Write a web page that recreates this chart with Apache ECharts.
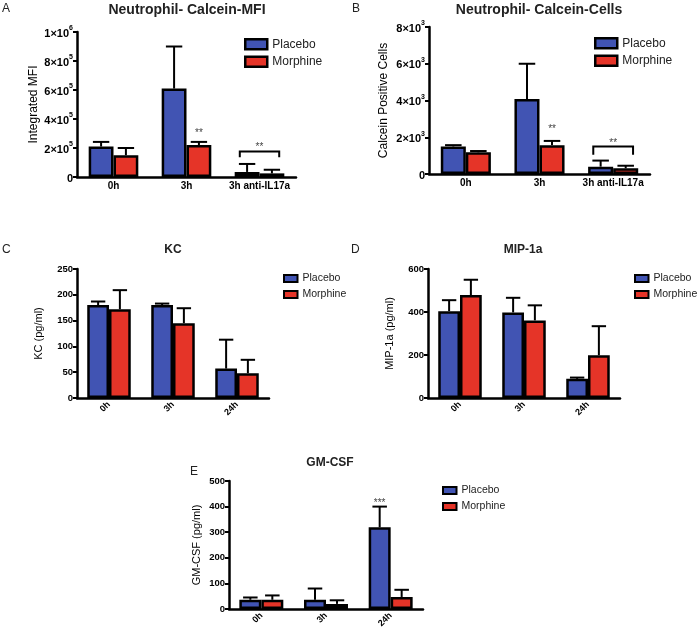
<!DOCTYPE html>
<html><head><meta charset="utf-8">
<script src="https://cdn.jsdelivr.net/npm/echarts@6/dist/echarts.min.js"></script>
<style>html,body{margin:0;padding:0;background:#fff}#c{width:700px;height:634px}</style>
</head><body><div id="c"></div>
<script>
// ---------- data ----------
const catsAB = ['0h', '3h', '3h anti-IL17a'];
const catsCDE = ['0h', '3h', '24h'];

const placeboA = [210000, 610000, 35000];
const placeboAErr = [32000, 290000, 55000];
const morphineA = [150000, 220000, 25000];
const morphineAErr = [50000, 22000, 25000];

const placeboB = [1500, 4080, 400];
const placeboBErr = [70, 1920, 330];
const morphineB = [1180, 1570, 310];
const morphineBErr = [70, 230, 140];

const placeboC = [180, 180, 57];
const placeboCErr = [7, 3, 56];
const morphineC = [172, 145, 48];
const morphineCErr = [37, 29, 26];

const placeboD = [404, 398, 89];
const placeboDErr = [51, 68, 6];
const morphineD = [479, 361, 199];
const morphineDErr = [71, 70, 135];

const placeboE = [36, 36, 319];
const placeboEErr = [9, 44, 81];
const morphineE = [36, 20, 47];
const morphineEErr = [17, 14, 28];

// significance marks: [category index, y value, side (-1 placebo, 0 centre, 1 morphine), text]
const starsA = [[1, 300000, 1, '**'], [2, 205000, 0, '**']];
const starsB = [[1, 2450, 1, '**'], [2, 1650, 0, '**']];
const starsE = [[2, 415, -1, '***']];
// brackets: [category index, top y, bottom y]
const bracketA = [[2, 176000, 137000]];
const bracketB = [[2, 1500, 1050]];

const yMax = [1000000, 8000, 250, 600, 500];
const yStep = [200000, 2000, 50, 200, 100];
const yNames = ['Integrated MFI', 'Calcein Positive Cells', 'KC (pg/ml)', 'MIP-1a (pg/ml)', 'GM-CSF (pg/ml)'];
const titles = ['Neutrophil- Calcein-MFI', 'Neutrophil- Calcein-Cells', 'KC', 'MIP-1a', 'GM-CSF'];
const letters = ['A', 'B', 'C', 'D', 'E'];

// ---------- style ----------
const FONT = '"Liberation Sans", Arial, Helvetica, sans-serif';
const BLUE = '#4154B3';
const RED = '#E53428';
const GAP = 0.32;

const grids = [
  {left: 77, top: 32, width: 219, height: 145},
  {left: 429, top: 27, width: 221, height: 147},
  {left: 77, top: 269, width: 192, height: 129},
  {left: 428, top: 269, width: 192, height: 129},
  {left: 229, top: 481, width: 194, height: 128}
];
const nameGaps = [37, 39, 33, 33, 27];
const nameSizes = [12, 12, 11, 11, 11];
const tickSizes = [11, 11, 9.5, 9.5, 9.5];
const titlePos = [[187, 3, 14], [539, 3, 14], [173, 244, 12], [523, 244, 12], [330, 457, 12]];
const letterPos = [[2, 3], [352, 3], [2, 244], [351, 244], [190, 466]];
const legendPos = [
  {left: 244, top: 38, w: 22, h: 10, gap: 5, fs: 12},
  {left: 594, top: 37, w: 22, h: 10, gap: 5, fs: 12},
  {left: 283, top: 273, w: 13.5, h: 7, gap: 5, fs: 10.5},
  {left: 634, top: 273, w: 13.5, h: 7, gap: 5, fs: 10.5},
  {left: 442, top: 485, w: 13.5, h: 7, gap: 5, fs: 10.5}
];

const panels = [
  {cats: catsAB, p: placeboA, pe: placeboAErr, m: morphineA, me: morphineAErr, stars: starsA, br: bracketA, sci: true},
  {cats: catsAB, p: placeboB, pe: placeboBErr, m: morphineB, me: morphineBErr, stars: starsB, br: bracketB, sci: true},
  {cats: catsCDE, p: placeboC, pe: placeboCErr, m: morphineC, me: morphineCErr, stars: [], br: []},
  {cats: catsCDE, p: placeboD, pe: placeboDErr, m: morphineD, me: morphineDErr, stars: [], br: []},
  {cats: catsCDE, p: placeboE, pe: placeboEErr, m: morphineE, me: morphineEErr, stars: starsE, br: []}
];

function sciFmt(v) {
  if (v === 0) return '{b|0}';
  const e = Math.floor(Math.log10(v) + 1e-9);
  const m = Math.round(v / Math.pow(10, e));
  return '{b|' + m + '×10}{s|' + e + '}';
}

function errRender(params, api) {
  const cat = api.value(0), v = api.value(1), e = api.value(2), side = api.value(3);
  const band = api.size([1, 0])[0];
  const bw = band * (1 - GAP) / 2;
  const base = api.coord([cat, v]);
  const top = api.coord([cat, v + e]);
  const x = base[0] + side * bw / 2;
  const hw = bw * 0.33;
  const st = {stroke: '#000', lineWidth: 2};
  return {type: 'group', children: [
    {type: 'line', shape: {x1: x, y1: base[1], x2: x, y2: top[1]}, style: st},
    {type: 'line', shape: {x1: x - hw, y1: top[1], x2: x + hw, y2: top[1]}, style: st}
  ]};
}

function starRender(arr) {
  return function (params, api) {
    const d = arr[params.dataIndex];
    const band = api.size([1, 0])[0];
    const bw = band * (1 - GAP) / 2;
    const c = api.coord([d[0], d[1]]);
    return {type: 'text', x: c[0] + d[2] * bw / 2, y: c[1],
      style: {text: d[3], fill: '#444', font: '10px ' + FONT, textAlign: 'center', textVerticalAlign: 'middle'}};
  };
}

function bracketRender(params, api) {
  const cat = api.value(0), y1 = api.value(1), y2 = api.value(2);
  const band = api.size([1, 0])[0];
  const a = api.coord([cat, y1]);
  const b = api.coord([cat, y2]);
  const xl = a[0] - band * 0.27, xr = a[0] + band * 0.27;
  return {type: 'polyline', shape: {points: [[xl, b[1]], [xl, a[1]], [xr, a[1]], [xr, b[1]]]},
    style: {stroke: '#000', lineWidth: 2, fill: null}};
}

const option = {
  animation: false,
  backgroundColor: '#fff',
  textStyle: {fontFamily: FONT},
  grid: grids,
  xAxis: [], yAxis: [], series: [], legend: [], graphic: []
};

panels.forEach((pn, i) => {
  const rot = i >= 2;
  option.xAxis.push({
    type: 'category', gridIndex: i, data: pn.cats,
    axisLine: {lineStyle: {color: '#000', width: 2.5}},
    axisTick: {alignWithLabel: true, length: 4, lineStyle: {color: '#000', width: 2}},
    axisLabel: rot ? {interval: 0, rotate: 45, margin: 5, color: '#000', fontWeight: 'bold', fontSize: 9, fontFamily: FONT}
                   : {interval: 0, margin: 4, color: '#000', fontWeight: 'bold', fontSize: 10, fontFamily: FONT},
    splitLine: {show: false}
  });
  const yl = {
    margin: 4, color: '#000', fontWeight: 'bold', fontSize: tickSizes[i], fontFamily: FONT
  };
  if (pn.sci) {
    yl.formatter = sciFmt;
    yl.rich = {
      b: {fontSize: 11, fontWeight: 'bold', fontFamily: FONT, color: '#000', lineHeight: 14, verticalAlign: 'bottom'},
      s: {fontSize: 7, fontWeight: 'bold', fontFamily: FONT, color: '#000', lineHeight: 14, verticalAlign: 'top'}
    };
  }
  option.yAxis.push({
    type: 'value', gridIndex: i, min: 0, max: yMax[i], interval: yStep[i],
    name: yNames[i], nameLocation: 'middle', nameGap: nameGaps[i],
    nameTextStyle: {fontSize: nameSizes[i], color: '#000', fontFamily: FONT},
    axisLine: {show: true, lineStyle: {color: '#000', width: 2.5}},
    axisTick: {show: true, length: 4, lineStyle: {color: '#000', width: 2}},
    axisLabel: yl,
    splitLine: {show: false}
  });
  const common = {type: 'bar', xAxisIndex: i, yAxisIndex: i, barGap: '0%', barCategoryGap: (GAP * 100) + '%',
    emphasis: {disabled: true}};
  option.series.push(Object.assign({}, common, {name: 'Placebo', data: pn.p,
    itemStyle: {color: BLUE, borderColor: '#000', borderWidth: 2.5}}));
  option.series.push(Object.assign({}, common, {name: 'Morphine', data: pn.m,
    itemStyle: {color: RED, borderColor: '#000', borderWidth: 2.5}}));
  const errData = [];
  pn.p.forEach((v, k) => errData.push([k, v, pn.pe[k], -1]));
  pn.m.forEach((v, k) => errData.push([k, v, pn.me[k], 1]));
  option.series.push({type: 'custom', name: 'err' + i, xAxisIndex: i, yAxisIndex: i, renderItem: errRender,
    data: errData, encode: {x: 0, y: 1}, z: 5, silent: true});
  if (pn.stars.length) {
    option.series.push({type: 'custom', name: 'stars' + i, xAxisIndex: i, yAxisIndex: i,
      renderItem: starRender(pn.stars), data: pn.stars.map(s => [s[0], s[1]]), encode: {x: 0, y: 1}, z: 6, silent: true});
  }
  if (pn.br.length) {
    option.series.push({type: 'custom', name: 'br' + i, xAxisIndex: i, yAxisIndex: i,
      renderItem: bracketRender, data: pn.br, encode: {x: 0, y: 1}, z: 6, silent: true});
  }
  const lp = legendPos[i];
  option.legend.push({
    data: ['Placebo', 'Morphine'], orient: 'vertical', left: lp.left, top: lp.top, padding: 0,
    itemWidth: lp.w, itemHeight: lp.h, itemGap: lp.gap, icon: 'rect', selectedMode: false,
    itemStyle: {borderColor: '#000', borderWidth: lp.w > 20 ? 2.5 : 2},
    textStyle: {fontSize: lp.fs, color: '#222', fontFamily: FONT}
  });
  option.graphic.push({type: 'text', x: titlePos[i][0], y: titlePos[i][1],
    style: {text: titles[i], font: 'bold ' + titlePos[i][2] + 'px ' + FONT, fill: '#222', textAlign: 'center', textVerticalAlign: 'top'}});
  option.graphic.push({type: 'text', x: letterPos[i][0], y: letterPos[i][1],
    style: {text: letters[i], font: '12px ' + FONT, fill: '#222', textAlign: 'left', textVerticalAlign: 'top'}});
});

const chart = echarts.init(document.getElementById('c'), null, {renderer: 'canvas'});
chart.setOption(option);
</script>
</body></html>
